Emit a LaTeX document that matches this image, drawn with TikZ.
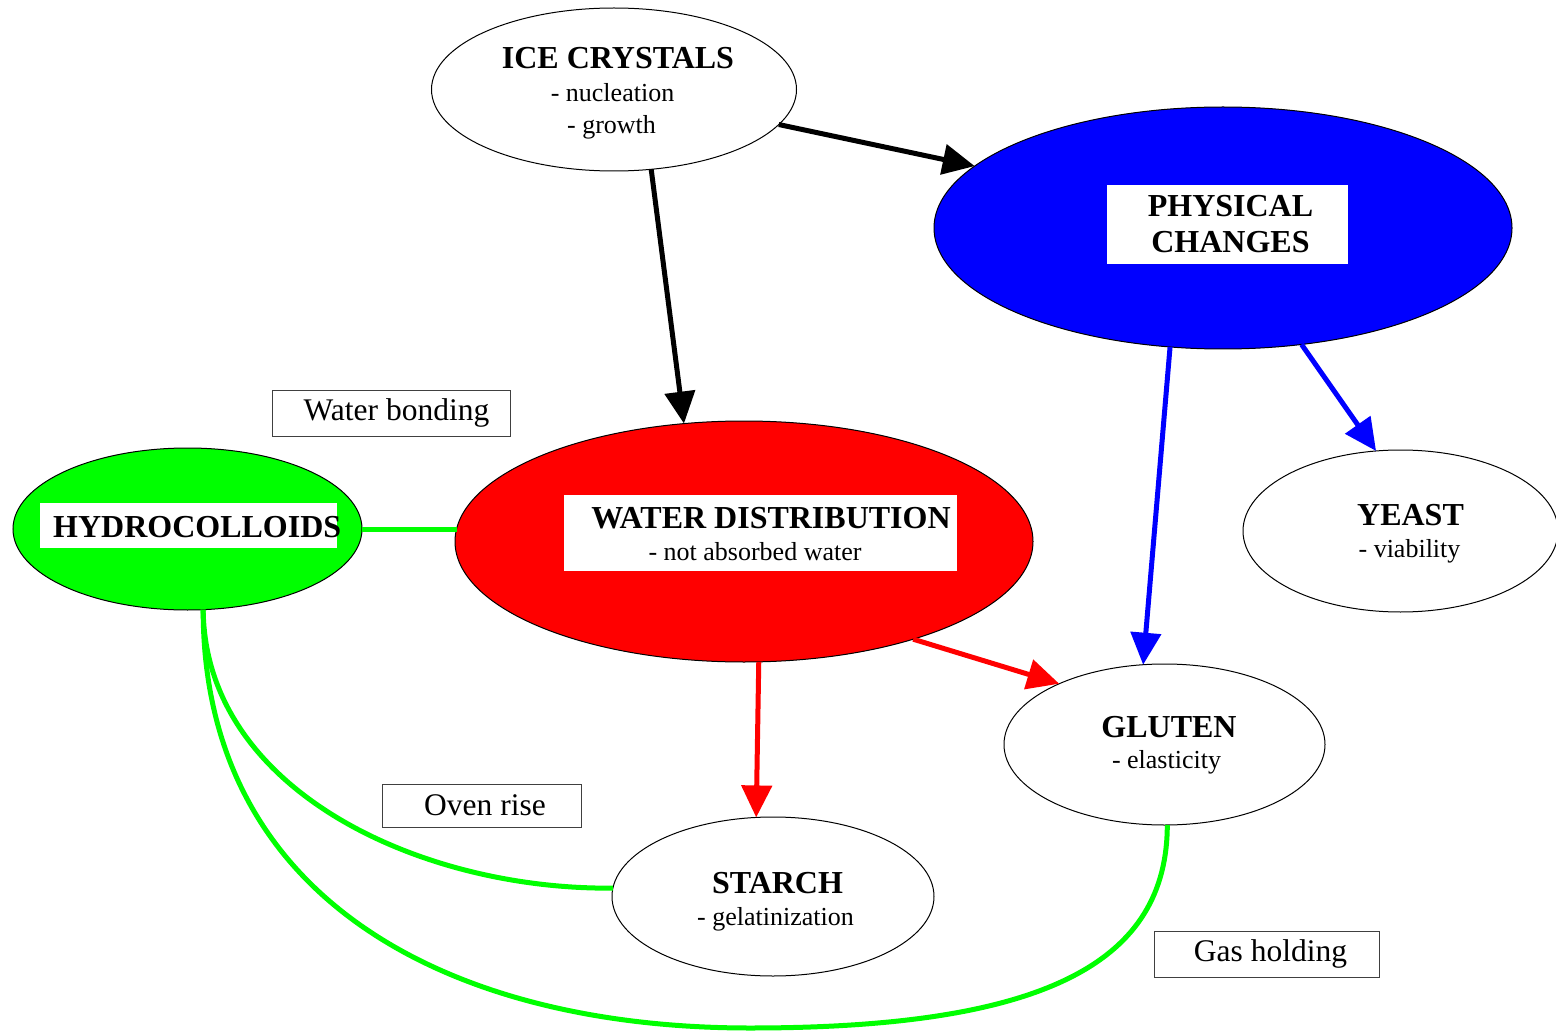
\documentclass[tikz,border=0pt]{standalone}
\usepackage{fontspec}
\setmainfont{Liberation Serif}
\usetikzlibrary{shapes.geometric,arrows.meta}
\begin{document}
\begin{tikzpicture}[x=1pt,y=-1pt,
  ell/.style={ellipse,draw=black,line width=1pt,inner sep=0pt,outer sep=0pt},
  ttl/.style={font=\fontsize{32}{36}\selectfont\bfseries,inner sep=0pt,anchor=base},
  subt/.style={font=\fontsize{26}{30}\selectfont,inner sep=0pt,anchor=base},
  lbl/.style={draw=black!75,line width=1pt,font=\fontsize{31.5}{34}\selectfont,inner sep=0pt},
  wbox/.style={fill=white,inner sep=0pt},
  conn/.style={line width=5pt},
  arr/.style={conn,-{Triangle[length=32pt,width=30pt]}},
]
\useasboundingbox (0,0) rectangle (1556,1032);
% ellipses
\node[ell,minimum width=365pt,minimum height=163pt] (ice) at (614,89.5) {};
\node[ell,fill=blue,minimum width=578pt,minimum height=242pt] (phys) at (1223,228) {};
\node[ell,fill=green,minimum width=349pt,minimum height=162pt] (hydro) at (187.5,529) {};
\node[ell,fill=red,minimum width=578pt,minimum height=241pt] (water) at (744,541.5) {};
\node[ell,minimum width=315pt,minimum height=162pt] (yeast) at (1400.5,531) {};
\node[ell,minimum width=321pt,minimum height=161pt] (gluten) at (1164.5,744.5) {};
\node[ell,minimum width=322pt,minimum height=159pt] (starch) at (773,896.5) {};
% texts
\node[ttl] (icet) at (618,69) {ICE CRYSTALS};
\node[subt] (ices1) at (612.5,101.5) {- nucleation};
\node[subt] (ices2) at (611.5,133.5) {- growth};
\node[wbox,align=center,font=\fontsize{32}{36}\selectfont\bfseries,minimum width=241pt,minimum height=79pt] (physt) at (1227.5,224.5) {\hspace*{6pt}PHYSICAL\\\hspace*{6pt}CHANGES};
\node[wbox,minimum width=297pt,minimum height=45pt] (hbox) at (188.5,525.5) {};
\node[ttl,anchor=base west] (hydrot) at (53,537) {HYDROCOLLOIDS};
\node[wbox,minimum width=393pt,minimum height=76pt] (wdbox) at (760.5,533) {};
\node[ttl] (watert) at (771,528.5) {WATER DISTRIBUTION};
\node[subt] (waters) at (755,560) {- not absorbed water};
\node[ttl] (yeastt) at (1410.5,525) {YEAST};
\node[subt] (yeasts) at (1409.5,557) {- viability};
\node[ttl] (glutent) at (1169,737) {GLUTEN};
\node[subt] (glutens) at (1166.5,768) {- elasticity};
\node[ttl] (starcht) at (777.5,893) {STARCH};
\node[subt] (starchs) at (775.5,925) {- gelatinization};
% label boxes
\node[lbl,minimum width=238pt,minimum height=46pt] (wb) at (391,413) {\hspace*{11pt}Water bonding};
\node[lbl,minimum width=199pt,minimum height=43pt] (oven) at (481.5,805.5) {\hspace*{7pt}Oven rise};
\node[lbl,minimum width=225pt,minimum height=46pt] (gas) at (1266.5,954) {\hspace*{8pt}Gas holding};
% connectors
\draw[arr,black] (ice.-12.6) -- (phys.166.8);
\draw[arr,black] (ice.-65.8) -- (water.117.2);
\draw[arr,blue] (phys.-114.6) -- (gluten.105);
\draw[arr,blue] (phys.-56.9) -- (yeast.107.7);
\draw[arr,red] (water.-30.4) -- (gluten.150.8);
\draw[arr,red] (water.-83.8) -- (starch.102.8);
\draw[conn,green] (hydro.east) -- ([xshift=1.5pt]hydro.east -| water.west);
\draw[conn,green] (hydro.-79) .. controls (205,790) and (420,890) .. (starch.177.6);
\draw[conn,green] (hydro.-79) .. controls (203,900) and (450,1028) .. (750,1028) .. controls (1050,1028) and (1167,960) .. (gluten.-88);
\end{tikzpicture}
\end{document}
